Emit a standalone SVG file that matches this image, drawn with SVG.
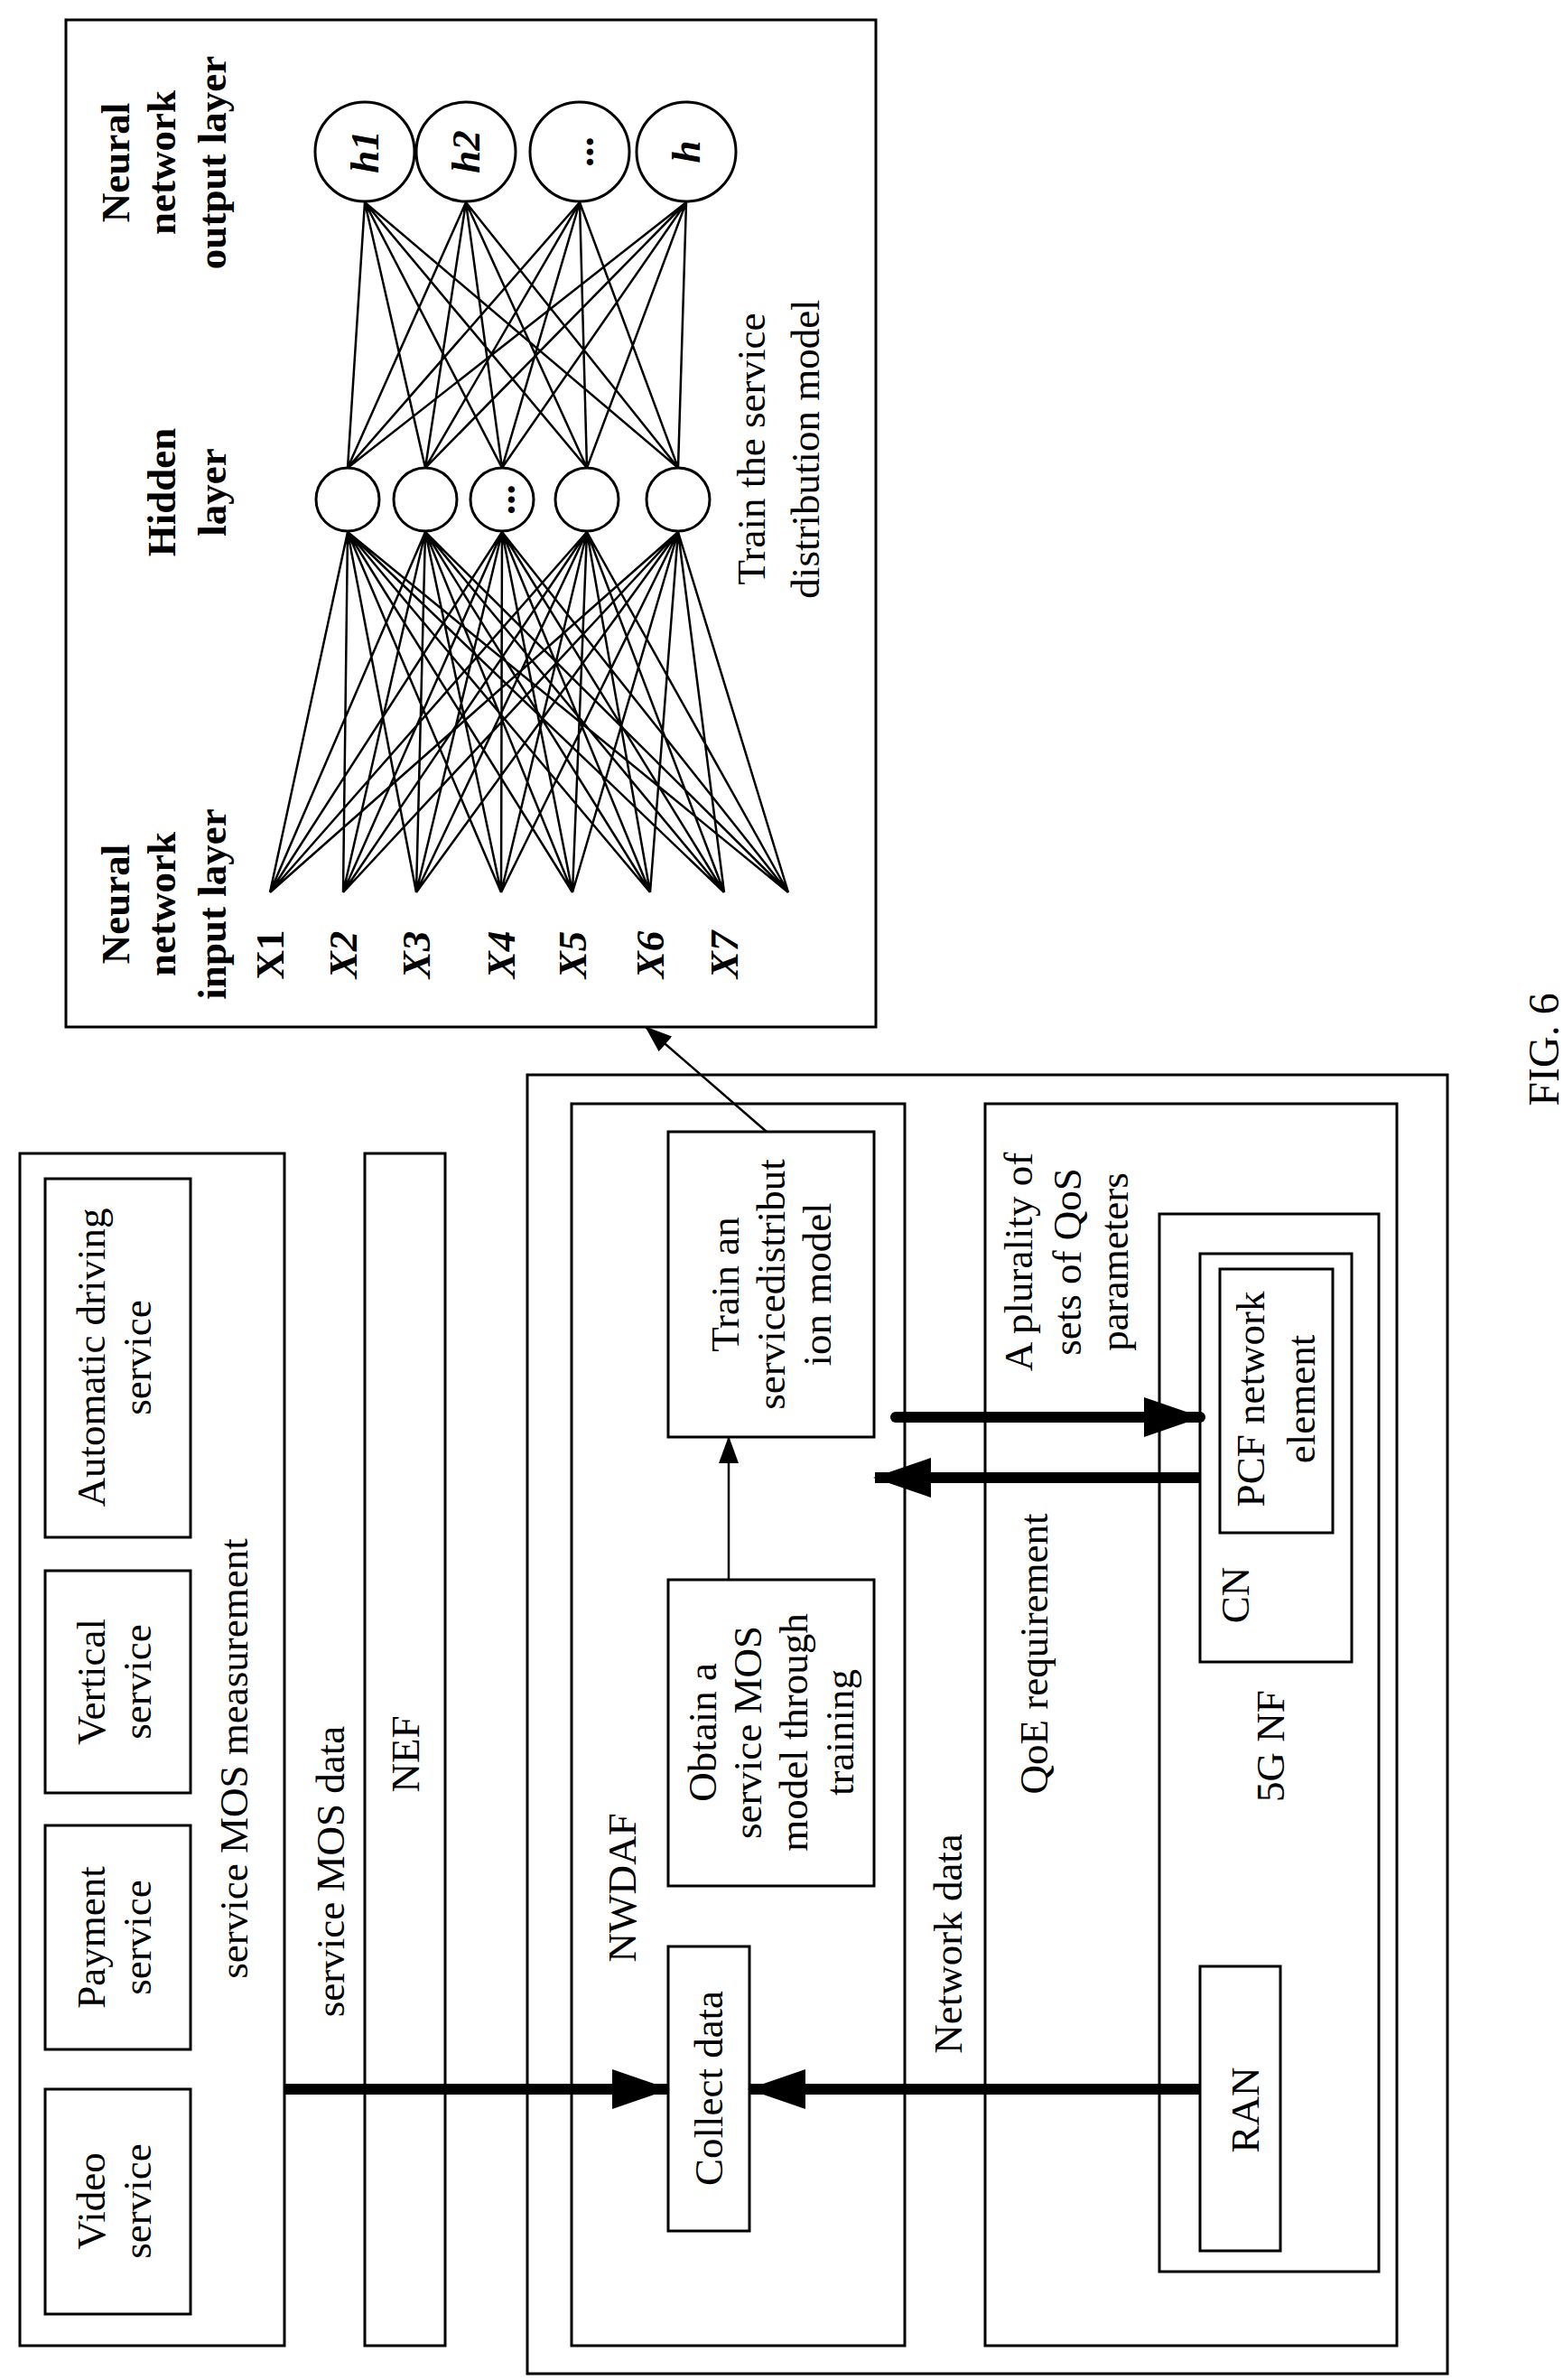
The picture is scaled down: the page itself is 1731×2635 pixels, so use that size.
<svg xmlns="http://www.w3.org/2000/svg" width="1731" height="2635" viewBox="0 0 1731 2635">
<style>
.b{fill:none;stroke:#000;stroke-width:3}
.t{font-family:"Liberation Serif",serif;font-size:45px;text-anchor:middle;fill:#000}
.bd{font-weight:bold}
.it{font-style:italic}
.thick{stroke:#000;stroke-width:12;fill:none}
.thin{stroke:#000;stroke-width:2.5;fill:none}
</style>
<defs>
<marker id="ah" markerUnits="userSpaceOnUse" markerWidth="64" markerHeight="44" refX="62" refY="22" orient="auto"><path d="M0,0 L64,22 L0,44 Z" fill="#000"/></marker>
<marker id="as" markerUnits="userSpaceOnUse" markerWidth="30" markerHeight="22" refX="29" refY="11" orient="auto"><path d="M0,0 L30,11 L0,22 Z" fill="#000"/></marker>
</defs>
<rect width="1731" height="2635" fill="#fff"/>

<g id="mos-panel">
<rect class="b" x="22" y="1277" width="293" height="1320"/>
<text class="t" transform="translate(274,1947) rotate(-90)">service MOS measurement</text>
</g>
<g id="auto"><rect class="b" x="50" y="1305" width="161" height="397"/>
<text class="t" transform="translate(116,1503) rotate(-90)">Automatic driving</text><text class="t" transform="translate(167,1503) rotate(-90)">service</text></g>
<g id="vertical"><rect class="b" x="50" y="1739" width="161" height="246"/>
<text class="t" transform="translate(116,1862) rotate(-90)">Vertical</text><text class="t" transform="translate(167,1862) rotate(-90)">service</text></g>
<g id="payment"><rect class="b" x="50" y="2021" width="161" height="248"/>
<text class="t" transform="translate(116,2145) rotate(-90)">Payment</text><text class="t" transform="translate(167,2145) rotate(-90)">service</text></g>
<g id="video"><rect class="b" x="50" y="2313" width="161" height="249"/>
<text class="t" transform="translate(116,2437) rotate(-90)">Video</text><text class="t" transform="translate(167,2437) rotate(-90)">service</text></g>
<text class="t" transform="translate(381,2072) rotate(-90)">service MOS data</text>
<g id="nef"><rect class="b" x="404" y="1277" width="89" height="1320"/>
<text class="t" transform="translate(464,1942) rotate(-90)">NEF</text></g>

<g id="outer"><rect class="b" x="584" y="1190" width="1019" height="1438"/></g>
<g id="nwdaf"><rect class="b" x="633" y="1222" width="369" height="1375"/>
<text class="t" transform="translate(704,2090) rotate(-90)">NWDAF</text></g>
<g id="train"><rect class="b" x="740" y="1253" width="228" height="338"/>
<text class="t" transform="translate(818,1422) rotate(-90)">Train an</text><text class="t" transform="translate(869,1422) rotate(-90)">servicedistribut</text><text class="t" transform="translate(920,1422) rotate(-90)">ion model</text></g>
<g id="obtain"><rect class="b" x="740" y="1749" width="228" height="339"/>
<text class="t" transform="translate(793,1918) rotate(-90)">Obtain a</text><text class="t" transform="translate(843,1918) rotate(-90)">service MOS</text><text class="t" transform="translate(894,1918) rotate(-90)">model through</text><text class="t" transform="translate(945,1918) rotate(-90)">training</text></g>
<g id="collect"><rect class="b" x="740" y="2155" width="90" height="315"/>
<text class="t" transform="translate(800,2312) rotate(-90)">Collect data</text></g>

<g id="qoe"><rect class="b" x="1091" y="1222" width="456" height="1375"/>
<text class="t" transform="translate(1160,1831) rotate(-90)">QoE requirement</text>
<text class="t" transform="translate(1143,1397) rotate(-90)">A plurality of</text>
<text class="t" transform="translate(1197,1397) rotate(-90)">sets of QoS</text>
<text class="t" transform="translate(1249,1397) rotate(-90)">parameters</text></g>
<g id="nf5g"><rect class="b" x="1284" y="1344" width="243" height="1171"/>
<text class="t" transform="translate(1422,1933) rotate(-90)">5G NF</text></g>
<g id="cn"><rect class="b" x="1329" y="1388" width="168" height="452"/>
<text class="t" transform="translate(1383,1766) rotate(-90)">CN</text></g>
<g id="pcf"><rect class="b" x="1351" y="1405" width="125" height="292"/>
<text class="t" transform="translate(1400,1549) rotate(-90)">PCF network</text><text class="t" transform="translate(1456,1549) rotate(-90)">element</text></g>
<g id="ran"><rect class="b" x="1329" y="2177" width="89" height="315"/>
<text class="t" transform="translate(1394,2336) rotate(-90)">RAN</text></g>
<text class="t" transform="translate(1065,2152) rotate(-90)">Network data</text>

<g id="nn"><rect class="b" x="73" y="22" width="897" height="1115"/>
<text class="t bd" transform="translate(143,180) rotate(-90)">Neural</text>
<text class="t bd" transform="translate(194,180) rotate(-90)">network</text>
<text class="t bd" transform="translate(250,180) rotate(-90)">output layer</text>
<text class="t bd" transform="translate(194,545) rotate(-90)">Hidden</text>
<text class="t bd" transform="translate(250,545) rotate(-90)">layer</text>
<text class="t bd" transform="translate(143,1001) rotate(-90)">Neural</text>
<text class="t bd" transform="translate(194,1001) rotate(-90)">network</text>
<text class="t bd" transform="translate(250,1001) rotate(-90)">input layer</text>
<text class="t" transform="translate(847,497) rotate(-90)">Train the service</text>
<text class="t" transform="translate(907,497) rotate(-90)">distribution model</text>
<text class="t bd" transform="translate(314,1057) rotate(-90)">X1</text>
<text class="t bd it" transform="translate(395,1057) rotate(-90)">X2</text>
<text class="t bd it" transform="translate(476,1057) rotate(-90)">X3</text>
<text class="t bd it" transform="translate(570,1057) rotate(-90)">X4</text>
<text class="t bd it" transform="translate(649,1057) rotate(-90)">X5</text>
<text class="t bd it" transform="translate(735,1057) rotate(-90)">X6</text>
<text class="t bd it" transform="translate(817,1057) rotate(-90)">X7</text>
<g id="hidden">
<circle class="b" cx="385" cy="553" r="35"/><circle class="b" cx="471" cy="553" r="35"/><circle class="b" cx="556" cy="553" r="35"/><circle class="b" cx="650" cy="553" r="35"/><circle class="b" cx="751" cy="553" r="35"/>
<text class="t bd" transform="translate(570,553) rotate(-90)">...</text>
</g>
<g id="output">
<circle class="b" cx="404" cy="168" r="55"/><circle class="b" cx="516" cy="168" r="55"/><circle class="b" cx="642" cy="168" r="55"/><circle class="b" cx="760" cy="168" r="55"/>
<text class="t bd it" transform="translate(419,168) rotate(-90)">h1</text>
<text class="t bd it" transform="translate(531,168) rotate(-90)">h2</text>
<text class="t bd" transform="translate(657,168) rotate(-90)">...</text>
<text class="t bd it" transform="translate(775,168) rotate(-90)">h</text>
</g>
</g>

<g id="connectors">
<path class="thin" d="M299 988L385 589M299 988L471 589M299 988L556 589M299 988L650 589M299 988L751 589
M380 988L385 589M380 988L471 589M380 988L556 589M380 988L650 589M380 988L751 589
M461 988L385 589M461 988L471 589M461 988L556 589M461 988L650 589M461 988L751 589
M555 988L385 589M555 988L471 589M555 988L556 589M555 988L650 589M555 988L751 589
M634 988L385 589M634 988L471 589M634 988L556 589M634 988L650 589M634 988L751 589
M720 988L385 589M720 988L471 589M720 988L556 589M720 988L650 589M720 988L751 589
M802 988L385 589M802 988L471 589M802 988L556 589M802 988L650 589M802 988L751 589
M873 988L385 589M873 988L471 589M873 988L556 589M873 988L650 589M873 988L751 589
M385 518L404 224M471 518L404 224M556 518L404 224M650 518L404 224M751 518L404 224
M385 518L516 224M471 518L516 224M556 518L516 224M650 518L516 224M751 518L516 224
M385 518L642 224M471 518L642 224M556 518L642 224M650 518L642 224M751 518L642 224
M385 518L760 224M471 518L760 224M556 518L760 224M650 518L760 224M751 518L760 224"/>
<line class="thin" x1="849" y1="1253" x2="715" y2="1137" marker-end="url(#as)"/>
<line class="thin" x1="807" y1="1749" x2="807" y2="1591" marker-end="url(#as)"/>
<line class="thick" x1="315" y1="2313" x2="740" y2="2313" marker-end="url(#ah)"/>
<line class="thick" x1="1329" y1="2313" x2="830" y2="2313" marker-end="url(#ah)"/>
<line class="thick" x1="992" y1="1569" x2="1329" y2="1569" marker-end="url(#ah)" stroke-linecap="round"/>
<line class="thick" x1="1329" y1="1636" x2="969" y2="1636" marker-end="url(#ah)"/>
</g>
<text class="t" style="font-size:48px" transform="translate(1726,1162) rotate(-90)">FIG. 6</text>
</svg>
